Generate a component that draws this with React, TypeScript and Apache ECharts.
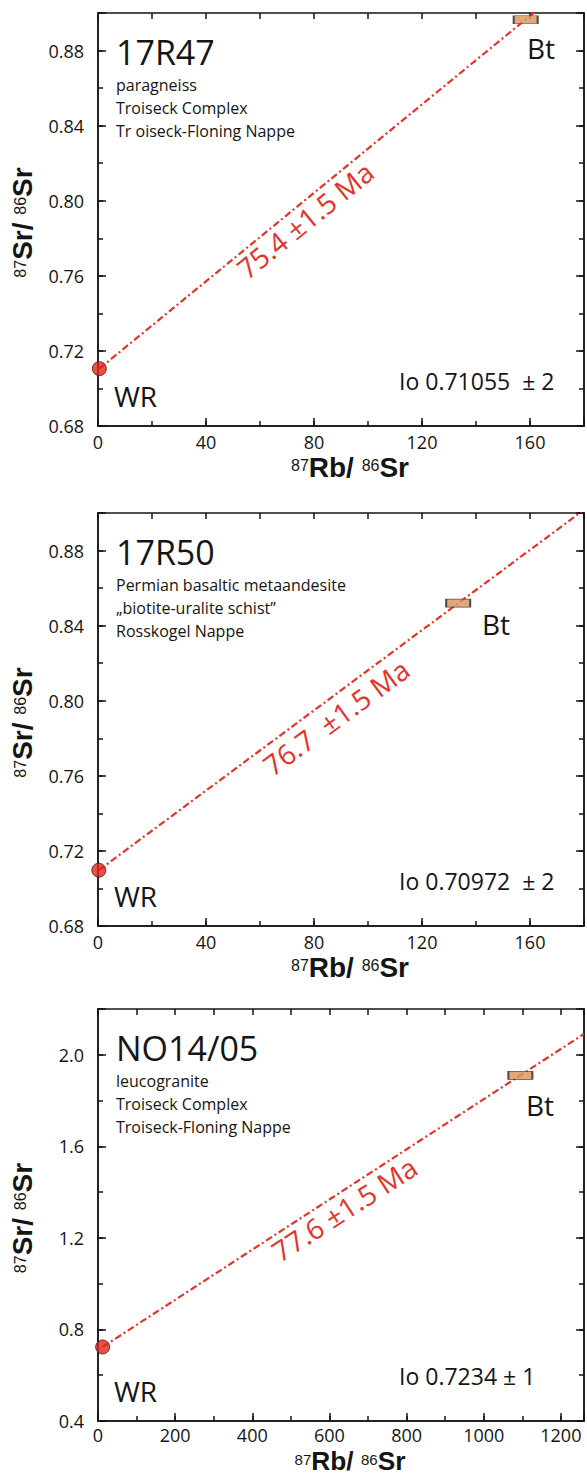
import React, { useEffect, useRef } from "react";
import * as echarts from "echarts";

// ---- data ----
const panelNames = ["17R47", "17R50", "NO14/05"];
const panelNotes = [
  ["paragneiss", "Troiseck Complex", "Tr oiseck-Floning Nappe"],
  ["Permian basaltic metaandesite", "\u201Ebiotite-uralite schist\u201D", "Rosskogel Nappe"],
  ["leucogranite", "Troiseck Complex", "Troiseck-Floning Nappe"],
];
const wrPoints = [
  [0.5, 0.71055],
  [0.3, 0.70972],
  [12, 0.7234],
];
const btPoints = [
  [158.4, 0.8964],
  [133.4, 0.852],
  [1095, 1.91],
];
const isochronEnds = [
  [180, 0.922],
  [180, 0.9017],
  [1260, 2.091],
];
const ageLabels = ["75.4 \u00B11.5 Ma", "76.7  \u00B11.5 Ma", "77.6 \u00B11.5 Ma"];
const initialRatios = ["Io 0.71055  \u00B1 2", "Io 0.70972  \u00B1 2", "Io 0.7234 \u00B1 1"];
const xRanges = [
  [0, 180],
  [0, 180],
  [0, 1260],
];
const xMajor = [40, 40, 200];
const xMinor = [20, 20, 100];
const yRanges = [
  [0.68, 0.9],
  [0.68, 0.9],
  [0.4, 2.2],
];
const yMajor = [0.04, 0.04, 0.4];
const yMinor = [0.02, 0.02, 0.2];
const yDecimals = [2, 2, 1];

// ---- layout ----
const W = 587;
const H = 1476;
const GRID_LEFT = 98;
const GRID_W = 488;
const gridTops = [13, 513, 1009];
const gridHeights = [413, 413, 412];
const ageText = [
  { x: 305, y: 220, deg: 39 },
  { x: 336, y: 717, deg: 36.4 },
  { x: 344, y: 1209, deg: 32.9 },
];
const btLabel = [
  { x: 527, y: 48 },
  { x: 482, y: 624 },
  { x: 526, y: 1105 },
];
const xTitleGap = [43, 43, 42];
const xLabelMargin = [7, 7, 5];
const titleScale = [1, 1, 0.94];

const FONT = "'Open Sans', 'Noto Sans', sans-serif";
const BOLD = "'Liberation Sans', Arial, sans-serif";
const INK = "#151515";
const RED = "#e6332a";

const fmt = (min: number, step: number, dec: number) => (v: number) => {
  const k = (v - min) / step;
  return Math.abs(k - Math.round(k)) < 1e-6 ? v.toFixed(dec) : "";
};

function buildOption() {
  const grid: any[] = [];
  const xAxis: any[] = [];
  const yAxis: any[] = [];
  const series: any[] = [];
  const graphic: any[] = [];
  const axisLine = { show: true, onZero: false, lineStyle: { color: INK, width: 1.5 } };
  const tickStyle = { color: INK, width: 1.5 };

  for (let i = 0; i < 3; i++) {
    const top = gridTops[i];
    const h = gridHeights[i];
    grid.push({ left: GRID_LEFT, top, width: GRID_W, height: h, show: false });
    const xb = { gridIndex: i, type: "value", min: xRanges[i][0], max: xRanges[i][1], axisLine, splitLine: { show: false } };
    xAxis.push({
      ...xb,
      position: "bottom",
      interval: xMajor[i],
      axisTick: { show: true, inside: true, length: 8, lineStyle: tickStyle },
      axisLabel: {
        show: true,
        margin: xLabelMargin[i],
        color: INK,
        fontFamily: FONT,
        fontSize: 18,
        lineHeight: 18,
        formatter: fmt(xRanges[i][0], xMajor[i], 0),
      },
    });
    xAxis.push({
      ...xb,
      position: "bottom",
      interval: xMinor[i],
      axisTick: { show: true, inside: true, length: 5, lineStyle: tickStyle },
      axisLabel: { show: false },
    });
    xAxis.push({
      ...xb,
      position: "top",
      interval: xMinor[i],
      axisTick: { show: true, inside: true, length: 6, lineStyle: tickStyle },
      axisLabel: { show: false },
    });
    const yb = { gridIndex: i, type: "value", min: yRanges[i][0], max: yRanges[i][1], axisLine, splitLine: { show: false } };
    yAxis.push({
      ...yb,
      position: "left",
      interval: yMajor[i],
      axisTick: { show: true, inside: true, length: 8, lineStyle: tickStyle },
      axisLabel: {
        show: true,
        margin: 14,
        color: INK,
        fontFamily: FONT,
        fontSize: 18,
        formatter: fmt(yRanges[i][0], yMajor[i], yDecimals[i]),
      },
    });
    yAxis.push({
      ...yb,
      position: "left",
      interval: yMinor[i],
      axisTick: { show: true, inside: true, length: 5, lineStyle: tickStyle },
      axisLabel: { show: false },
    });
    yAxis.push({
      ...yb,
      position: "right",
      interval: yMajor[i],
      axisTick: { show: true, inside: true, length: 8, lineStyle: tickStyle },
      axisLabel: { show: false },
    });
    yAxis.push({
      ...yb,
      position: "right",
      interval: yMinor[i],
      axisTick: { show: true, inside: true, length: 5, lineStyle: tickStyle },
      axisLabel: { show: false },
    });

    const xi = i * 3;
    const yi = i * 4;
    series.push({
      type: "line",
      xAxisIndex: xi,
      yAxisIndex: yi,
      data: [wrPoints[i], isochronEnds[i]],
      symbol: "none",
      clip: true,
      silent: true,
      z: 2,
      lineStyle: { color: RED, width: 2.2, type: [7, 3, 2, 3] },
    });
    series.push({
      type: "scatter",
      xAxisIndex: xi,
      yAxisIndex: yi,
      data: [btPoints[i]],
      symbol: "rect",
      symbolSize: [24, 8],
      z: 3,
      itemStyle: { color: "#d6955d", borderColor: "#2b2b2b", borderWidth: 1.2 },
    });
    series.push({
      type: "scatter",
      xAxisIndex: xi,
      yAxisIndex: yi,
      data: [wrPoints[i]],
      symbol: "circle",
      symbolSize: 14,
      z: 4,
      itemStyle: { color: "#e1261c", borderColor: "#4a1a12", borderWidth: 1 },
    });

    const axisBottom = top + h;
    graphic.push({
      type: "text",
      x: 116,
      y: top + 38.5,
      style: { text: panelNames[i], font: `34px ${FONT}`, fill: INK, align: "left", verticalAlign: "middle" },
    });
    panelNotes[i].forEach((t, k) => {
      graphic.push({
        type: "text",
        x: 116,
        y: top + 72 + k * 23,
        style: { text: t, font: `16px ${FONT}`, fill: INK, align: "left", verticalAlign: "middle" },
      });
    });
    graphic.push({
      type: "text",
      x: 114,
      y: axisBottom - 30,
      style: { text: "WR", font: `28px ${FONT}`, fill: INK, align: "left", verticalAlign: "middle" },
    });
    graphic.push({
      type: "text",
      x: btLabel[i].x,
      y: btLabel[i].y,
      style: { text: "Bt", font: `28px ${FONT}`, fill: INK, align: "left", verticalAlign: "middle" },
    });
    graphic.push({
      type: "text",
      x: 399,
      y: axisBottom - 45,
      style: { text: initialRatios[i], font: `23px ${FONT}`, fill: INK, align: "left", verticalAlign: "middle" },
    });
    graphic.push({
      type: "text",
      x: ageText[i].x,
      y: ageText[i].y,
      rotation: (ageText[i].deg * Math.PI) / 180,
      style: { text: ageLabels[i], font: `28px ${FONT}`, fill: RED, align: "center", verticalAlign: "middle" },
    });
    const sc = titleScale[i];
    const rich = {
      s: { fontFamily: BOLD, fontSize: 16 * sc, fill: INK, verticalAlign: "top", lineHeight: 24 * sc },
      b: { fontFamily: BOLD, fontSize: 28 * sc, fontWeight: "bold", fill: INK, verticalAlign: "bottom", lineHeight: 24 * sc },
    };
    const richY = {
      s: { fontFamily: BOLD, fontSize: 16, fill: INK, verticalAlign: "top", lineHeight: 24 },
      b: { fontFamily: BOLD, fontSize: 28, fontWeight: "bold", fill: INK, verticalAlign: "bottom", lineHeight: 24 },
    };
    graphic.push({
      type: "text",
      x: 350,
      y: axisBottom + xTitleGap[i],
      style: { text: "{s|87}{b|Rb/ }{s|86}{b|Sr}", rich, align: "center", verticalAlign: "middle" },
    });
    graphic.push({
      type: "text",
      x: 24,
      y: top + h / 2 + 3,
      rotation: Math.PI / 2,
      style: { text: "{s|87}{b|Sr/ }{s|86}{b|Sr}", rich: richY, align: "center", verticalAlign: "middle" },
    });
  }

  return {
    animation: false,
    backgroundColor: "#ffffff",
    grid,
    xAxis,
    yAxis,
    series,
    graphic,
  };
}

export default function App() {
  const ref = useRef<HTMLDivElement>(null);
  useEffect(() => {
    document.body.style.margin = "0";
    const chart = echarts.init(ref.current as HTMLDivElement, undefined, { renderer: "svg", width: W, height: H });
    chart.setOption(buildOption());
    return () => chart.dispose();
  }, []);
  return <div ref={ref} style={{ width: W, height: H }} />;
}
